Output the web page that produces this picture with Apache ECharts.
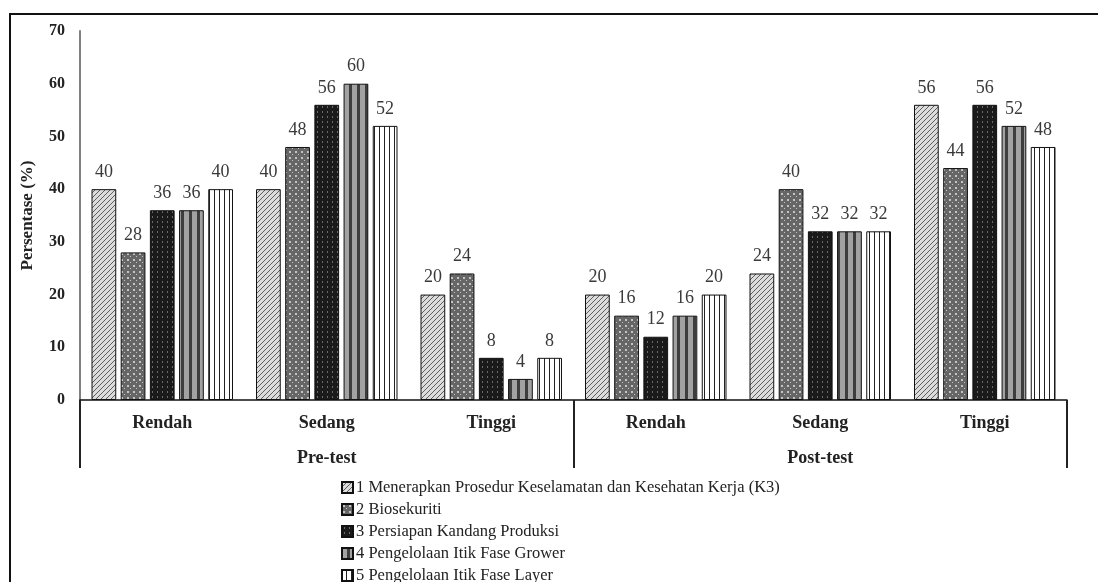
<!DOCTYPE html>
<html>
<head>
<meta charset="utf-8">
<script src="https://cdn.jsdelivr.net/npm/echarts@6/dist/echarts.min.js"></script>
<style>
html,body{margin:0;padding:0;background:#fff;}
#chart{width:1098px;height:582px;}
</style>
</head>
<body>
<div id="chart"></div>
<script>
// ---- data ----
var categories = ['Rendah', 'Sedang', 'Tinggi', 'Rendah', 'Sedang', 'Tinggi'];
var groups = ['Pre-test', 'Post-test'];
var seriesNames = [
  '1 Menerapkan Prosedur Keselamatan dan Kesehatan Kerja (K3)',
  '2 Biosekuriti',
  '3 Persiapan Kandang Produksi',
  '4 Pengelolaan Itik Fase Grower',
  '5 Pengelolaan Itik Fase Layer'
];
var s1 = [40, 40, 20, 20, 24, 56];
var s2 = [28, 48, 24, 16, 40, 44];
var s3 = [36, 56, 8, 12, 32, 56];
var s4 = [36, 60, 4, 16, 32, 52];
var s5 = [40, 52, 8, 20, 32, 48];
var yMin = 0, yMax = 70, yStep = 10;

// ---- patterns ----
function makeCanvas(w, h, draw) {
  var c = document.createElement('canvas');
  c.width = w; c.height = h;
  var ctx = c.getContext('2d');
  draw(ctx, w, h);
  return c;
}
var pat1 = makeCanvas(5, 5, function (ctx, w, h) {
  ctx.fillStyle = '#dcdcdc'; ctx.fillRect(0, 0, w, h);
  ctx.strokeStyle = '#5e5e5e'; ctx.lineWidth = 1;
  for (var k = -2; k <= 2; k++) {
    ctx.beginPath();
    ctx.moveTo(k * 5, h); ctx.lineTo(k * 5 + w, 0); ctx.stroke();
  }
});
var pat2 = makeCanvas(6, 6, function (ctx, w, h) {
  ctx.fillStyle = '#666666'; ctx.fillRect(0, 0, w, h);
  ctx.fillStyle = '#c4c4c4';
  ctx.fillRect(1, 1, 2, 2); ctx.fillRect(4, 4, 1, 1);
});
var pat3 = makeCanvas(5, 5, function (ctx, w, h) {
  ctx.fillStyle = '#1a1a1a'; ctx.fillRect(0, 0, w, h);
  ctx.fillStyle = '#6a6a6a';
  ctx.fillRect(2, 1, 1, 2);
});
var pat4 = makeCanvas(8, 4, function (ctx, w, h) {
  ctx.fillStyle = '#a2a2a2'; ctx.fillRect(0, 0, w, h);
  ctx.fillStyle = '#3e3e3e'; ctx.fillRect(5, 0, 3, h);
});
var pat5 = makeCanvas(5, 4, function (ctx, w, h) {
  ctx.fillStyle = '#ffffff'; ctx.fillRect(0, 0, w, h);
  ctx.fillStyle = '#222222'; ctx.fillRect(4, 0, 1, h);
});
var patterns = [pat1, pat2, pat3, pat4, pat5];
var values = [s1, s2, s3, s4, s5];

var serif = '"Liberation Serif", "DejaVu Serif", serif';

var series = values.map(function (v, i) {
  return {
    name: seriesNames[i],
    type: 'bar',
    data: v,
    barGap: '18%',
    barCategoryGap: '14%',
    itemStyle: {
      color: { image: patterns[i], repeat: 'repeat' },
      borderColor: '#111',
      borderWidth: 1
    },
    label: {
      show: true,
      position: 'top',
      distance: 8,
      color: '#3a3a3a',
      fontFamily: serif,
      fontSize: 18
    }
  };
});

var chart = echarts.init(document.getElementById('chart'), null, { renderer: 'canvas' });
chart.setOption({
  backgroundColor: '#ffffff',
  animation: false,
  graphic: [{
    type: 'rect',
    shape: { x: 10, y: 14, width: 1100, height: 600 },
    style: { fill: 'none', stroke: '#111', lineWidth: 2 },
    z: 0
  }],
  grid: { left: 80, right: 31, top: 31, bottom: 182, containLabel: false },
  legend: {
    orient: 'vertical',
    left: 341,
    top: 479,
    height: 120,
    padding: 0,
    itemWidth: 11,
    itemHeight: 11,
    itemGap: 5,
    icon: 'rect',
    textStyle: { fontFamily: serif, fontSize: 16.5, color: '#222', padding: [0, 0, 0, -2] },
    data: seriesNames
  },
  xAxis: [{
    type: 'category',
    data: categories,
    position: 'bottom',
    axisLine: { show: true, lineStyle: { color: '#111', width: 1.5 } },
    axisTick: { show: false },
    axisLabel: { fontFamily: serif, fontWeight: 'bold', fontSize: 18, color: '#222', margin: 14 }
  }, {
    type: 'category',
    data: groups,
    position: 'bottom',
    axisLine: { show: false },
    axisTick: { show: true, length: 68, lineStyle: { color: '#222', width: 2 } },
    axisLabel: { fontFamily: serif, fontWeight: 'bold', fontSize: 18, color: '#222', margin: 49 }
  }],
  yAxis: {
    type: 'value',
    min: yMin, max: yMax, interval: yStep,
    name: 'Persentase (%)',
    nameLocation: 'middle',
    nameGap: 44,
    nameTextStyle: { fontFamily: serif, fontWeight: 'bold', fontSize: 17, color: '#222' },
    axisLine: { show: true, lineStyle: { color: '#808080', width: 2 } },
    axisTick: { show: false },
    splitLine: { show: false },
    axisLabel: { fontFamily: serif, fontWeight: 'bold', fontSize: 16, color: '#222', margin: 15 }
  },
  series: series
});
</script>
</body>
</html>
